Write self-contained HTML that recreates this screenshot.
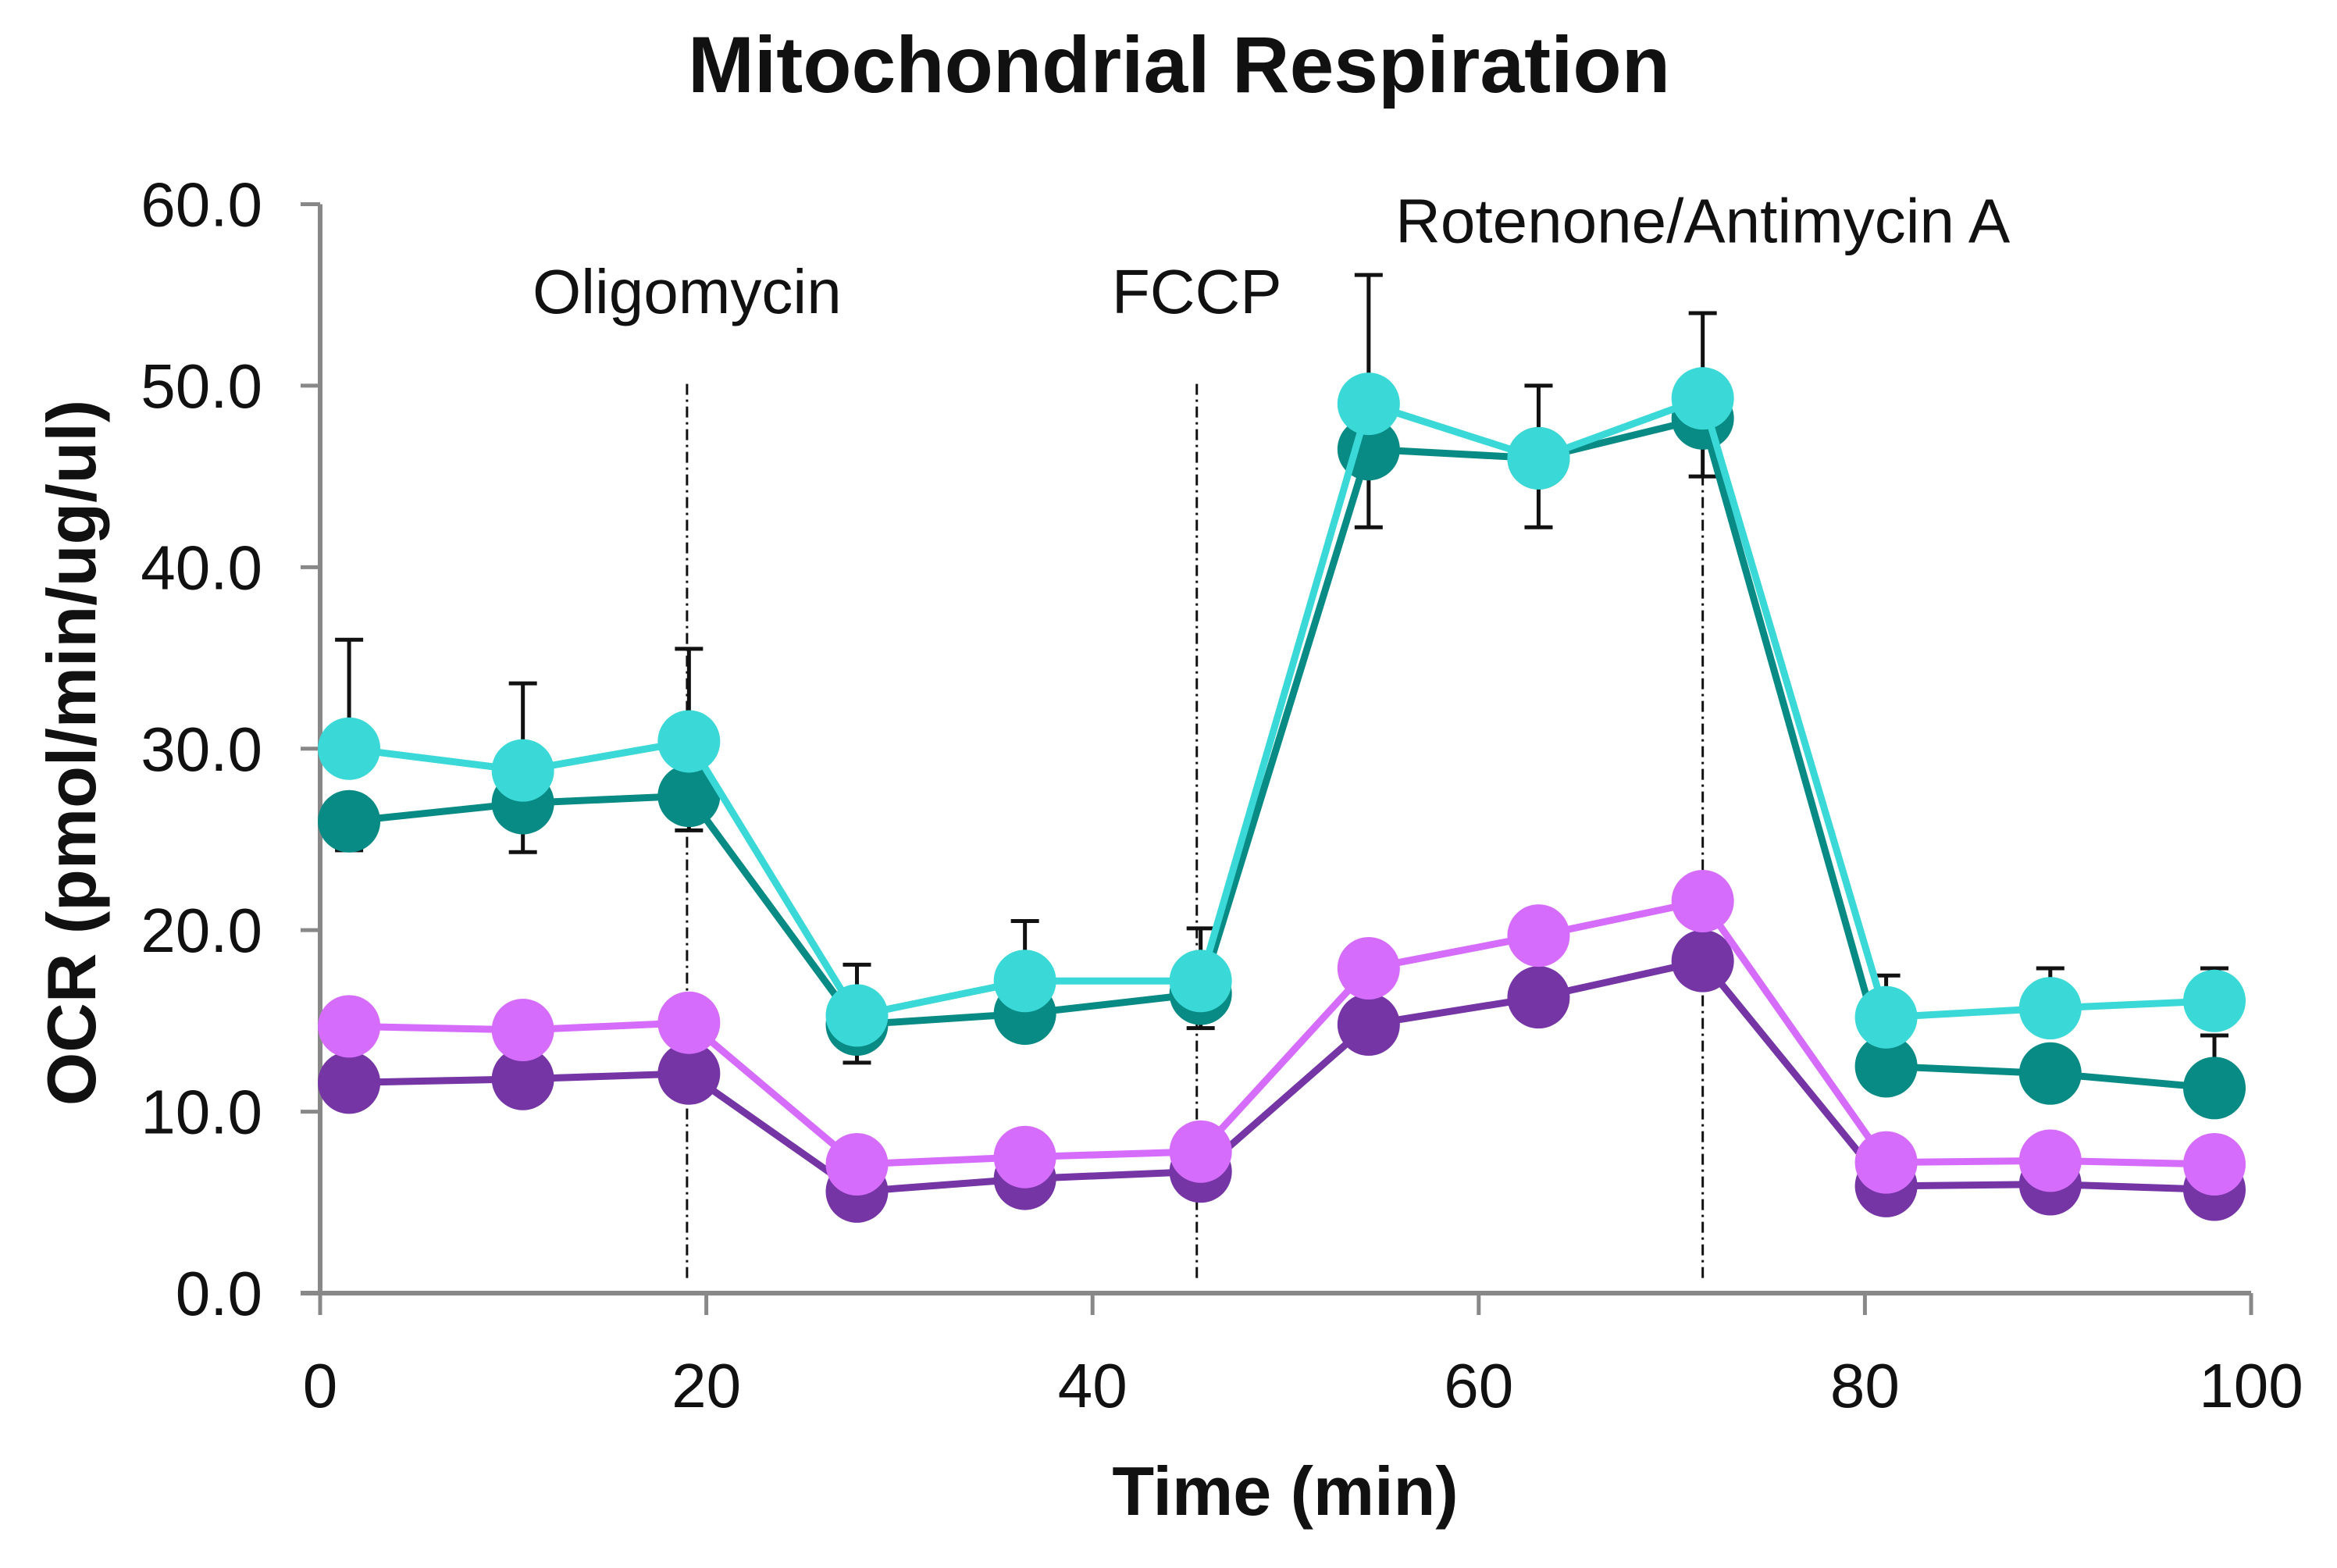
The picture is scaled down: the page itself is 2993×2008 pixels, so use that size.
<!DOCTYPE html>
<html><head><meta charset="utf-8"><style>
html,body{margin:0;padding:0;background:#fff;}
svg{display:block;font-family:"Liberation Sans","DejaVu Sans",sans-serif;}
</style></head><body>
<svg id="chart" width="2993" height="2008" viewBox="0 0 2993 2008" xmlns="http://www.w3.org/2000/svg">
<text x="1510" y="118" font-size="102" font-weight="bold" text-anchor="middle" fill="#111">Mitochondrial Respiration</text>
<g id="axes"></g>
<g id="marks"></g>
<text transform="translate(122,964) rotate(-90)" font-size="88" font-weight="bold" text-anchor="middle" fill="#111">OCR (pmol/min/ug/ul)</text>
<text x="1646" y="1940" font-size="88" font-weight="bold" text-anchor="middle" fill="#111">Time (min)</text>
</svg>
<script>
const times = [1.5, 10.5, 19.1, 27.8, 36.5, 45.6, 54.3, 63.1, 71.6, 81.1, 89.6, 98.1];
const cyanValues = [30.0, 28.8, 30.4, 15.3, 17.2, 17.2, 49.0, 46.0, 49.3, 15.2, 15.7, 16.1];
const tealValues = [26.0, 27.0, 27.4, 14.8, 15.4, 16.5, 46.5, 46.0, 48.2, 12.5, 12.1, 11.3];
const pinkValues = [14.7, 14.5, 14.9, 7.1, 7.5, 7.8, 17.9, 19.7, 21.6, 7.2, 7.3, 7.1];
const purpleValues = [11.6, 11.8, 12.1, 5.6, 6.3, 6.7, 14.8, 16.3, 18.3, 5.9, 6.0, 5.7];
const cyanErrTop = [36.0, 33.6, 35.5, 18.1, 20.5, 20.1, 56.1, 50.0, 54.0, 17.5, 17.9, 17.9];
const tealErrBottom = [24.4, 24.3, 25.5, 12.7, 15.4, 14.6, 42.2, 42.2, 45.0, 12.5, 12.1, 14.2];
const yTicks = ["0.0","10.0","20.0","30.0","40.0","50.0","60.0"];
const xTicks = [0, 20, 40, 60, 80, 100];
const injectionTimes = [19.0, 45.4, 71.6];
const injectionLabels = ["Oligomycin", "FCCP", "Rotenone/Antimycin A"];
const injectionLabelY = [55.2, 55.2, 59.1];

const NS = "http://www.w3.org/2000/svg";
const X0 = 410, X1 = 2883, Y0 = 1656, Y1 = 261.5;
function xs(v){ return X0 + (v/100)*(X1-X0); }
function ys(v){ return Y0 - (v/60)*(Y0-Y1); }
function mk(tag, attrs, parent){
  const e = document.createElementNS(NS, tag);
  for (const k in attrs) e.setAttribute(k, attrs[k]);
  parent.appendChild(e); return e;
}
const axes = document.getElementById('axes');
const marks = document.getElementById('marks');
const axisColor = "#888";

const yAxis = mk('line',{x1:X0,y1:Y1,x2:X0,y2:Y0,stroke:axisColor,'stroke-width':6},axes);


const xAxis = mk('line',{x1:X0-25,y1:Y0,x2:X1,y2:Y0,stroke:axisColor,'stroke-width':6},axes);



yTicks.forEach((t,i)=>{
  const v = parseFloat(t);
  const tk = mk('line',{x1:X0-25,y1:ys(v),x2:X0,y2:ys(v),stroke:axisColor,'stroke-width':5},axes);
  
  
  const lb = mk('text',{x:X0-74,y:ys(v)+28,'font-size':80,'text-anchor':'end',fill:'#111'},axes);
  lb.textContent = t;
  
  
});
xTicks.forEach(v=>{
  const tk = mk('line',{x1:xs(v),y1:Y0,x2:xs(v),y2:Y0+28,stroke:axisColor,'stroke-width':5},axes);
  
  
  const lb = mk('text',{x:xs(v),y:Y0+146,'font-size':80,'text-anchor':'middle',fill:'#111'},axes);
  lb.textContent = String(v);
  
  
});

injectionTimes.forEach((t,i)=>{
  const ln = mk('line',{x1:xs(t),y1:ys(50.1),x2:xs(t),y2:ys(0.7),stroke:'#111','stroke-width':3,'stroke-dasharray':'14,6,3,6'},axes);
  
  
  const lb = mk('text',{x:xs(t),y:ys(injectionLabelY[i])+28,'font-size':80,'text-anchor':'middle',fill:'#111'},axes);
  lb.textContent = injectionLabels[i];
  
  
});

times.forEach((t,i)=>{
  const x = xs(t);
  const eb = mk('line',{x1:x,y1:ys(cyanErrTop[i]),x2:x,y2:ys(cyanValues[i]),stroke:'#111','stroke-width':5},marks);
  
  
  const cap = mk('line',{x1:x-18,y1:ys(cyanErrTop[i]),x2:x+18,y2:ys(cyanErrTop[i]),stroke:'#111','stroke-width':5},marks);
  
  
  const eb2 = mk('line',{x1:x,y1:ys(tealValues[i]),x2:x,y2:ys(tealErrBottom[i]),stroke:'#111','stroke-width':5},marks);
  
  
  const cap2 = mk('line',{x1:x-18,y1:ys(tealErrBottom[i]),x2:x+18,y2:ys(tealErrBottom[i]),stroke:'#111','stroke-width':5},marks);
  
  
});

const series = [
  {name:'purple', vals:purpleValues, color:'#7535a5'},
  {name:'pink', vals:pinkValues, color:'#d56cfb'},
  {name:'teal', vals:tealValues, color:'#088a85'},
  {name:'cyan', vals:cyanValues, color:'#3bd8d8'}
];
series.forEach(s=>{
  const pts = times.map((t,i)=>xs(t)+','+ys(s.vals[i])).join(' ');
  const pl = mk('polyline',{points:pts,fill:'none',stroke:s.color,'stroke-width':9},marks);
  
  
  times.forEach((t,i)=>{
    const c = mk('circle',{cx:xs(t),cy:ys(s.vals[i]),r:40,fill:s.color},marks);
    
    
  });
});
</script>
</body></html>
